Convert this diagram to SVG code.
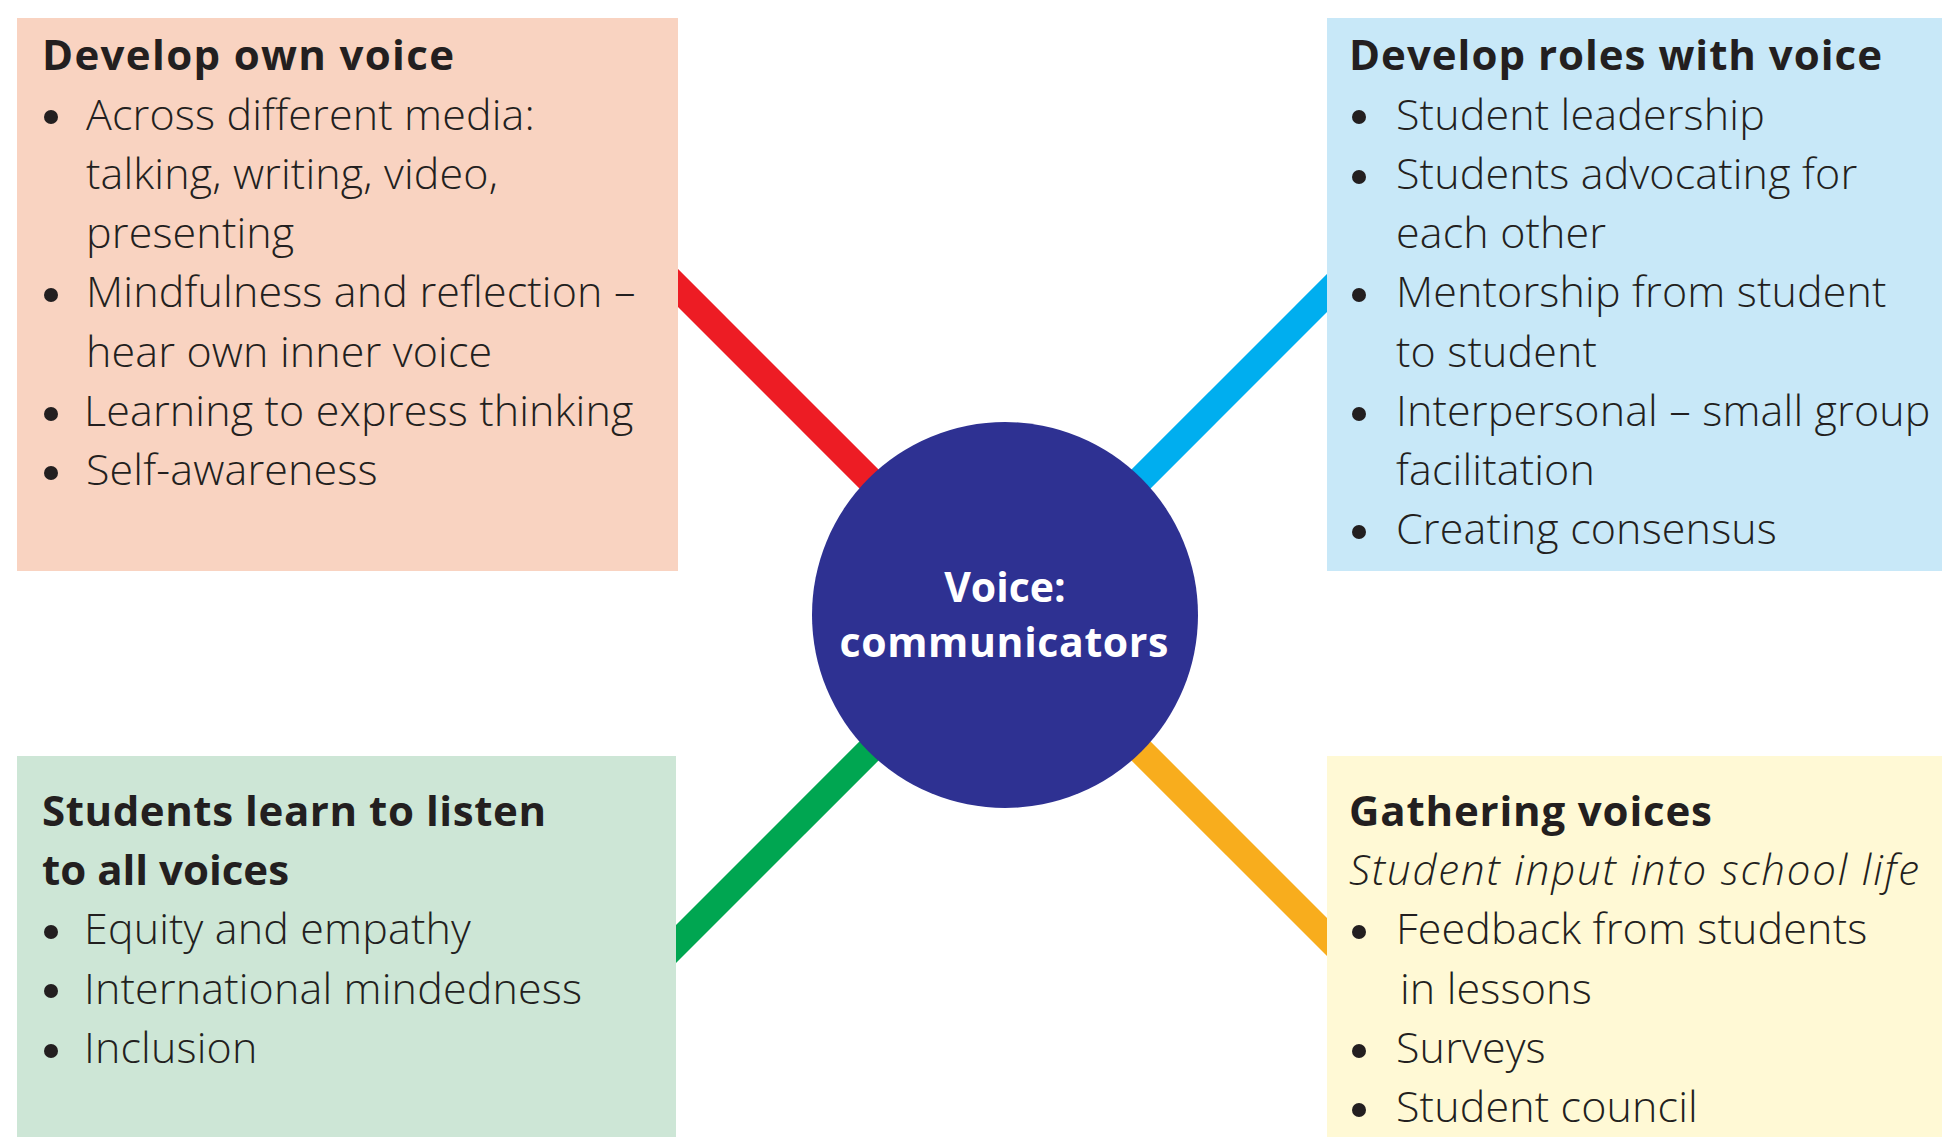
<svg xmlns="http://www.w3.org/2000/svg" width="1942" height="1137" viewBox="0 0 1942 1137">
  <style>
    .box-peach { fill: #F9D3C1; }
    .box-blue { fill: #C8E8F8; }
    .box-green { fill: #CDE6D6; }
    .box-yellow { fill: #FFF9D5; }
    .link { stroke-width: 27; stroke-linecap: butt; fill: none; }
    .title { font-family: "Open Sans", "Noto Sans", sans-serif; font-weight: 700; font-size: 42px; fill: #231F20; }
    .item { font-family: "Open Sans", "Noto Sans", sans-serif; font-weight: 300; font-size: 43px; letter-spacing: 0.15px; fill: #231F20; }
    .sub { font-family: "Open Sans", "Noto Sans", sans-serif; font-weight: 300; font-style: italic; font-size: 42px; fill: #231F20; }
    .hub-text { font-family: "Open Sans", "Noto Sans", sans-serif; font-weight: 700; font-size: 41px; fill: #FFFFFF; text-anchor: middle; }
    .dot { fill: #231F20; }
  </style>
  <rect width="1942" height="1137" fill="#FFFFFF"/>

  <!-- spokes from the hub to each box -->
  <g id="connectors">
    <line class="link" x1="640" y1="250" x2="1005" y2="615" stroke="#ED1C24"/>
    <line class="link" x1="1370" y1="250" x2="1005" y2="615" stroke="#00AEEF"/>
    <line class="link" x1="640" y1="980" x2="1005" y2="615" stroke="#00A651"/>
    <line class="link" x1="1370" y1="980" x2="1005" y2="615" stroke="#F8AD1D"/>
  </g>

  <!-- top left: own voice -->
  <g id="develop-own-voice">
    <rect class="box-peach" x="17" y="18" width="661" height="553"/>
    <text class="title" x="42" y="70" textLength="412">Develop own voice</text>
    <circle class="dot" cx="51" cy="117" r="7"/>
    <text class="item" x="86" y="129.5">Across different media:</text>
    <text class="item" x="86" y="188.8">talking, writing, video,</text>
    <text class="item" x="86" y="248">presenting</text>
    <circle class="dot" cx="51" cy="295" r="7"/>
    <text class="item" x="86" y="307.3">Mindfulness and reflection –</text>
    <text class="item" x="86" y="366.5">hear own inner voice</text>
    <circle class="dot" cx="51" cy="414" r="7"/>
    <text class="item" x="84" y="425.8">Learning to express thinking</text>
    <circle class="dot" cx="51" cy="473" r="7"/>
    <text class="item" x="86" y="485">Self-awareness</text>
  </g>

  <!-- top right: roles with voice -->
  <g id="develop-roles">
    <rect class="box-blue" x="1327" y="18" width="615" height="553"/>
    <text class="title" x="1349" y="70" textLength="533">Develop roles with voice</text>
    <circle class="dot" cx="1359" cy="117" r="7"/>
    <text class="item" x="1396" y="129.5">Student leadership</text>
    <circle class="dot" cx="1359" cy="177" r="7"/>
    <text class="item" x="1396" y="188.8">Students advocating for</text>
    <text class="item" x="1396" y="248">each other</text>
    <circle class="dot" cx="1359" cy="295" r="7"/>
    <text class="item" x="1396" y="307.3">Mentorship from student</text>
    <text class="item" x="1396" y="366.5">to student</text>
    <circle class="dot" cx="1359" cy="414" r="7"/>
    <text class="item" x="1396" y="425.8">Interpersonal – small group</text>
    <text class="item" x="1396" y="485">facilitation</text>
    <circle class="dot" cx="1359" cy="532" r="7"/>
    <text class="item" x="1396" y="544.3">Creating consensus</text>
  </g>

  <!-- bottom left: listening -->
  <g id="learn-to-listen">
    <rect class="box-green" x="17" y="756" width="659" height="381"/>
    <text class="title" x="42" y="826" textLength="504">Students learn to listen</text>
    <text class="title" x="42" y="885">to all voices</text>
    <circle class="dot" cx="51" cy="932" r="7"/>
    <text class="item" x="84" y="944.3">Equity and empathy</text>
    <circle class="dot" cx="51" cy="991" r="7"/>
    <text class="item" x="84" y="1003.5">International mindedness</text>
    <circle class="dot" cx="51" cy="1051" r="7"/>
    <text class="item" x="84" y="1062.8">Inclusion</text>
  </g>

  <!-- bottom right: gathering voices -->
  <g id="gathering-voices">
    <rect class="box-yellow" x="1327" y="756" width="615" height="381"/>
    <text class="title" x="1349" y="826" textLength="363">Gathering voices</text>
    <text class="sub" x="1349" y="885" textLength="570">Student input into school life</text>
    <circle class="dot" cx="1359" cy="932" r="7"/>
    <text class="item" x="1396" y="944.3">Feedback from students</text>
    <text class="item" x="1400" y="1003.5">in lessons</text>
    <circle class="dot" cx="1359" cy="1051" r="7"/>
    <text class="item" x="1396" y="1062.8">Surveys</text>
    <circle class="dot" cx="1359" cy="1110" r="7"/>
    <text class="item" x="1396" y="1122">Student council</text>
  </g>

  <!-- central hub -->
  <g id="hub">
    <circle cx="1005" cy="615" r="193" fill="#2E3192"/>
    <text class="hub-text" x="1005" y="602">Voice:</text>
    <text class="hub-text" x="1004" y="657" textLength="329">communicators</text>
  </g>
</svg>
